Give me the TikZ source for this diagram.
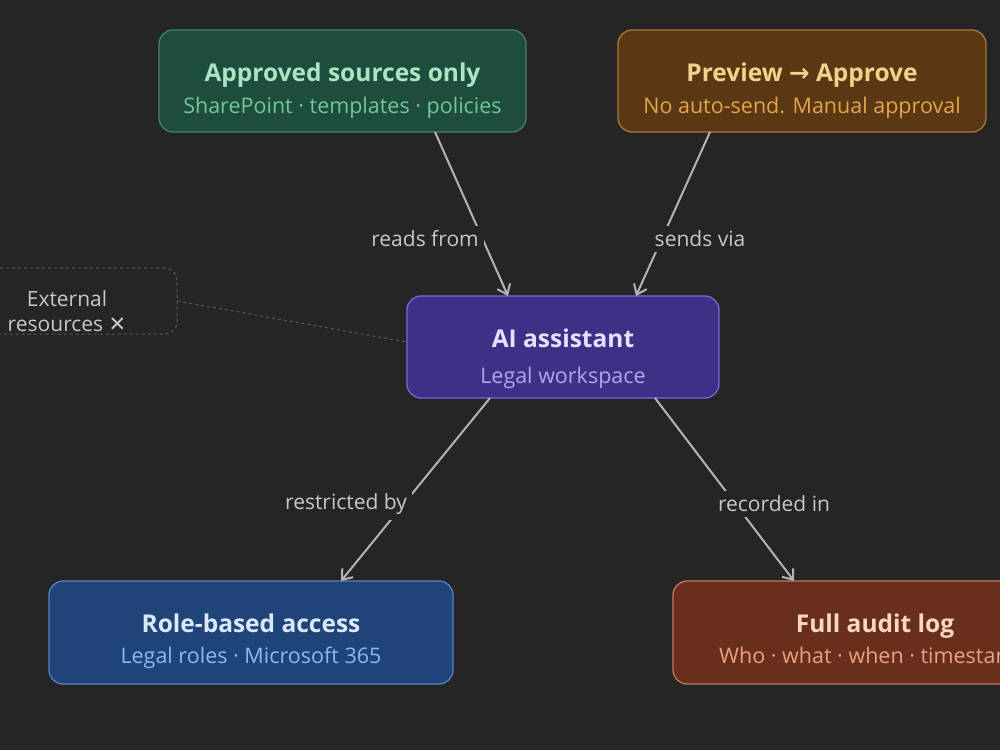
\documentclass[tikz,border=0pt]{standalone}
\usepackage{fontspec}
\setmainfont{Open Sans}
\newfontfamily\symfont{DejaVu Sans}
\usetikzlibrary{calc,arrows.meta}
\definecolor{bg}{HTML}{252525}
\definecolor{gfill}{HTML}{1F4D3D}\definecolor{gline}{HTML}{468264}\definecolor{gtitle}{HTML}{AAE6C3}\definecolor{gsub}{HTML}{6EC89A}
\definecolor{ofill}{HTML}{5A3814}\definecolor{oline}{HTML}{AA783C}\definecolor{otitle}{HTML}{F5D28C}\definecolor{osub}{HTML}{E6A54B}
\definecolor{pfill}{HTML}{3C3087}\definecolor{pline}{HTML}{7869D2}\definecolor{ptitle}{HTML}{E6E1FF}\definecolor{psub}{HTML}{AFA5F0}
\definecolor{bfill}{HTML}{1E4478}\definecolor{bline}{HTML}{5582BE}\definecolor{btitle}{HTML}{DCE8FA}\definecolor{bsub}{HTML}{8CB9F0}
\definecolor{rfill}{HTML}{692F1C}\definecolor{rline}{HTML}{BE785F}\definecolor{rtitle}{HTML}{FAD7C3}\definecolor{rsub}{HTML}{EBA082}
\definecolor{edge}{HTML}{B4B4B4}\definecolor{elabel}{HTML}{C8C8C8}\definecolor{dash}{HTML}{5A5A5A}
\tikzset{
  card/.style={rectangle, rounded corners=14pt, line width=1.3pt, inner sep=0pt},
  ttl/.style={font=\fontsize{24.5}{28}\selectfont\bfseries, inner sep=0pt, anchor=base},
  sub/.style={font=\fontsize{21.5}{25}\selectfont, inner sep=0pt, anchor=base},
  conn/.style={draw=edge, line width=2pt, -{Straight Barb[length=9pt,width=14pt,line width=2pt]}},
  elab/.style={font=\fontsize{21}{25}\selectfont, text=elabel, fill=bg, inner sep=5pt},
  extlab/.style={font=\fontsize{21}{25}\selectfont, text=elabel, inner sep=0pt, anchor=base},
}
\begin{document}
\begin{tikzpicture}[x=1pt,y=-1pt]
\useasboundingbox[fill=bg] (0,0) rectangle (1000,750);
% boxes
\node[card, draw=gline, fill=gfill, minimum width=367pt, minimum height=102pt] (src) at (342.5,81) {};
\node[card, draw=oline, fill=ofill, minimum width=368pt, minimum height=102pt] (prev) at (802,81) {};
\node[card, draw=pline, fill=pfill, minimum width=312pt, minimum height=102pt] (ai) at (563,347) {};
\node[card, draw=bline, fill=bfill, minimum width=404pt, minimum height=103pt] (role) at (251,632.5) {};
\node[card, draw=rline, fill=rfill, minimum width=404pt, minimum height=103pt] (audit) at (875,632.5) {};
\node[rectangle, rounded corners=12pt, draw=dash, dashed, line width=1pt, minimum width=200pt, minimum height=66pt] (ext) at (77,301) {};
% texts
\node[ttl, text=gtitle] (srct) at ($(src)+(0,0)$) {Approved sources only};
\node[sub, text=gsub] (srcs) at ($(src)+(0,32)$) {SharePoint · templates · policies};
\node[ttl, text=otitle] (prevt) at ($(prev)+(0,0)$) {Preview {\symfont\bfseries →} Approve};
\node[sub, text=osub] (prevs) at ($(prev)+(0,32)$) {No auto-send. Manual approval};
\node[ttl, text=ptitle] (ait) at ($(ai)+(0,0)$) {AI assistant};
\node[sub, text=psub] (ais) at ($(ai)+(0,36)$) {Legal workspace};
\node[ttl, text=btitle] (rolet) at ($(role)+(0,0)$) {Role-based access};
\node[sub, text=bsub] (roles) at ($(role)+(0,31)$) {Legal roles · Microsoft 365};
\node[ttl, text=rtitle] (auditt) at ($(audit)+(0,0)$) {Full audit log};
\node[sub, text=rsub, anchor=base west] (audits) at ($(audit)+(-156,31)$) {Who · what · when · timestamp};
\node[extlab] (extt1) at (67,306) {External};
\node[extlab] (extt2) at (67,331) {resources {\symfont ✕}};
% connectors
\coordinate (srcA) at (435,132);
\coordinate (aiA) at (508,296);
\coordinate (prevA) at (710,132);
\coordinate (aiB) at (636,296);
\coordinate (aiC) at (490,398);
\coordinate (roleA) at (341,581);
\coordinate (aiD) at (655,398);
\coordinate (auditA) at (794,581);
\draw[conn] (srcA) -- (aiA);
\draw[conn] (prevA) -- (aiB);
\draw[conn] (aiC) -- (roleA);
\draw[conn] (aiD) -- (auditA);
\draw[draw=dash, dashed, line width=1pt] (ext.east) -- ($(ai.west)+(0,-5)$);
\node[elab] (l1) at (425,239) {reads from};
\node[elab] (l2) at (700,239) {sends via};
\node[elab] (l3) at (346,504) {restricted by};
\node[elab] (l4) at (774,504) {recorded in};
\end{tikzpicture}
\end{document}
